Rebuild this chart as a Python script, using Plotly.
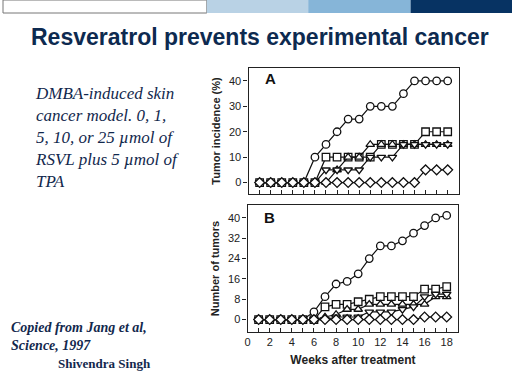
import plotly.graph_objects as go

weeks = list(range(1, 19))

# Panel A: tumor incidence (%)
inc_0 = [0, 0, 0, 0, 0, 10, 15, 20, 25, 25, 30, 30, 30, 35, 40, 40, 40, 40]
inc_1 = [0, 0, 0, 0, 0, 0, 10, 10, 10, 10, 10, 15, 15, 15, 15, 20, 20, 20]
inc_5 = [0, 0, 0, 0, 0, 0, 0, 5, 10, 10, 15, 15, 15, 15, 15, 15, 15, 15]
inc_10 = [0, 0, 0, 0, 0, 0, 5, 5, 5, 5, 10, 10, 10, 15, 15, 15, 15, 15]
inc_25 = [0, 0, 0, 0, 0, 0, 0, 0, 0, 0, 0, 0, 0, 0, 0, 5, 5, 5]

# Panel B: number of tumors
num_0 = [0, 0, 0, 0, 0, 3, 9, 14, 15, 18, 24, 29, 29, 31, 34, 37, 40, 41]
num_1 = [0, 0, 0, 0, 0, 0, 5, 6, 6, 7, 8, 9, 9, 9, 9, 12, 12, 13]
num_5 = [0, 0, 0, 0, 0, 0, 1, 2, 4, 4, 6, 6, 6, 6, 6, 6, 9, 9]
num_10 = [0, 0, 0, 0, 0, 0, 0, 1, 1, 1, 3, 3, 3, 4, 5, 9, 10, 10]
num_25 = [0, 0, 0, 0, 0, 0, 0, 0, 0, 0, 0, 0, 0, 0, 0, 1, 1, 1]

symbols = ["circle", "square", "triangle-up", "triangle-down", "diamond"]
series_a = [inc_0, inc_1, inc_5, inc_10, inc_25]
series_b = [num_0, num_1, num_5, num_10, num_25]

yticks_a = [0, 10, 20, 30, 40]
yticks_b = [0, 8, 16, 24, 32, 40]
xticks_b = [0, 2, 4, 6, 8, 10, 12, 14, 16, 18]

title_text = "Resveratrol prevents experimental cancer"
side_text = ["DMBA-induced skin", "cancer model. 0, 1,", "5, 10, or 25 \u00b5mol of",
             "RSVL plus 5 \u00b5mol of", "TPA"]
credit_text = ["Copied from Jang et al,", "Science, 1997"]
author_text = "Shivendra Singh"

SANS = "Liberation Sans"
SERIF = "Liberation Serif"

fig = go.Figure()
for vals, sym in zip(series_a, symbols):
    fig.add_trace(go.Scatter(x=weeks, y=vals, mode="lines+markers", xaxis="x", yaxis="y",
                             line=dict(color="#111", width=1.2),
                             marker=dict(symbol=sym, size=7.5, color="white",
                                         line=dict(color="#111", width=1.3)),
                             showlegend=False))
for vals, sym in zip(series_b, symbols):
    fig.add_trace(go.Scatter(x=weeks, y=vals, mode="lines+markers", xaxis="x2", yaxis="y2",
                             line=dict(color="#111", width=1.2),
                             marker=dict(symbol=sym, size=7.5, color="white",
                                         line=dict(color="#111", width=1.3)),
                             showlegend=False))

W, H = 512, 384
def px(x):
    return x / W
def py(y):
    return 1 - y / H

axis_common = dict(showline=True, linecolor="#222", linewidth=1.2, mirror=True,
                   showgrid=False, zeroline=False)
tickfont = dict(family=SANS, size=11, color="#222")
titlefont = dict(family=SANS, size=11, color="#222", weight="bold")

fig.update_layout(
    width=W, height=H, margin=dict(l=0, r=0, t=0, b=0),
    paper_bgcolor="white", plot_bgcolor="white",
    xaxis=dict(domain=[px(247), px(459)], range=[0, 19.05], anchor="y",
               tickvals=weeks, showticklabels=False, ticks="inside", ticklen=4,
               tickcolor="#222", **axis_common),
    yaxis=dict(domain=[py(194), py(68)], range=[-4.5, 45.1], anchor="x",
               tickvals=yticks_a, ticks="outside", ticklen=4, tickcolor="#222",
               tickfont=tickfont,
               title=dict(text="Tumor incidence (%)", font=titlefont, standoff=6),
               **axis_common),
    xaxis2=dict(domain=[px(246), px(458)], range=[0, 19.05], anchor="y2",
                tickvals=xticks_b, ticks="inside", ticklen=4, tickcolor="#222",
                minor=dict(dtick=1, ticks="inside", ticklen=4, tickcolor="#222"),
                tickfont=tickfont,
                title=dict(text="Weeks after treatment",
                           font=dict(family=SANS, size=12, color="#222", weight="bold"),
                           standoff=8),
                **axis_common),
    yaxis2=dict(domain=[py(332), py(205)], range=[-4.9, 45.1], anchor="x2",
                tickvals=yticks_b, ticks="outside", ticklen=4, tickcolor="#222",
                tickfont=tickfont,
                title=dict(text="Number of tumors", font=titlefont, standoff=6),
                **axis_common),
)

# Slide banner
shapes = [
    dict(type="rect", xref="paper", yref="paper", x0=0, x1=px(205), y0=py(13), y1=1,
         fillcolor="white", line=dict(color="#777", width=1)),
    dict(type="rect", xref="paper", yref="paper", x0=px(205), x1=px(307), y0=py(13), y1=1,
         fillcolor="#b9d2e5", line=dict(width=0)),
    dict(type="rect", xref="paper", yref="paper", x0=px(307), x1=px(410), y0=py(13), y1=1,
         fillcolor="#86b5d8", line=dict(width=0)),
    dict(type="rect", xref="paper", yref="paper", x0=px(410), x1=1, y0=py(13), y1=1,
         fillcolor="#073363", line=dict(width=0)),
]
fig.update_layout(shapes=shapes)

navy = "#12284d"
annotations = [
    dict(text="<b>" + title_text + "</b>", x=px(259), y=py(37), xref="paper", yref="paper",
         showarrow=False, xanchor="center", yanchor="middle",
         font=dict(family=SANS, size=23, color="#0d2a50")),
    dict(text="<i>" + "<br>".join(side_text) + "</i>", x=px(30), y=py(82), xref="paper",
         yref="paper", showarrow=False, xanchor="left", yanchor="top", align="left",
         font=dict(family=SERIF, size=17, color=navy)),
    dict(text="<b><i>" + "<br>".join(credit_text) + "</i></b>", x=px(6), y=py(318),
         xref="paper", yref="paper", showarrow=False, xanchor="left", yanchor="top",
         align="left",
         font=dict(family=SERIF, size=14, color=navy)),
    dict(text="<b>" + author_text + "</b>", x=px(53), y=py(363), xref="paper", yref="paper",
         showarrow=False, xanchor="left", yanchor="middle",
         font=dict(family=SERIF, size=13, color=navy)),
    dict(text="<b>A</b>", x=px(269), y=py(79), xref="paper", yref="paper", showarrow=False,
         xanchor="center", yanchor="middle",
         font=dict(family=SANS, size=15, color="#111")),
    dict(text="<b>B</b>", x=px(268), y=py(217), xref="paper", yref="paper", showarrow=False,
         xanchor="center", yanchor="middle",
         font=dict(family=SANS, size=15, color="#111")),
]
fig.update_layout(annotations=annotations)

fig.write_html("out.html", config={"displayModeBar": False},
               post_script="document.body.style.margin='0';")
